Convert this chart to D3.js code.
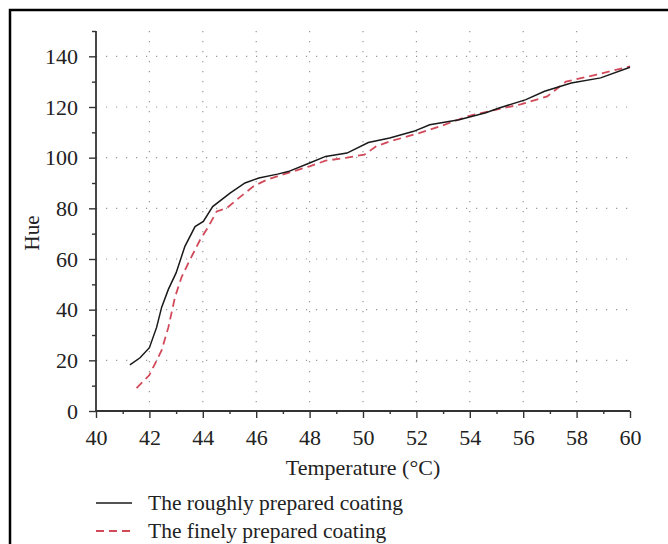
<!DOCTYPE html>
<html>
<head>
<meta charset="utf-8">
<script src="https://cdn.jsdelivr.net/npm/d3@7"></script>
<style>
  body { margin: 0; background: #fff; }
  svg { display: block; }
  text { font-family: "Liberation Serif", "DejaVu Serif", serif; fill: #222; }
</style>
</head>
<body>
<div id="chart"></div>
<script>
// data
var roughTemp = [41.27, 41.65, 42.0, 42.27, 42.46, 42.71, 43.0, 43.33, 43.71, 44.02, 44.37, 45.02, 45.58, 46.1, 46.8, 47.2, 48.0, 48.6, 49.4, 50.2, 51.0, 51.9, 52.5, 53.6, 54.6, 55.1, 56.1, 56.8, 57.8, 58.9, 60.0];
var roughHue = [18.2, 21, 25, 33, 41, 48, 54.5, 65, 72.8, 74.8, 80.7, 86, 90, 92, 93.5, 94.5, 97.9, 100.5, 101.8, 106, 107.8, 110.4, 113, 115, 117.7, 119.6, 122.9, 126.2, 129.5, 131.5, 135.7];

var fineTemp = [41.52, 42.0, 42.46, 42.71, 42.96, 43.21, 43.52, 43.9, 44.21, 44.52, 44.9, 45.27, 45.9, 46.4, 47.2, 48.0, 48.6, 49.4, 50.05, 50.5, 51.0, 52.1, 52.9, 53.9, 55.0, 55.9, 56.9, 57.6, 58.75, 60.0];
var fineHue = [9, 14.2, 24, 33, 45, 53, 59.7, 67.6, 72.8, 78.8, 80.1, 83.4, 88.7, 91.3, 94, 96.6, 98.8, 100, 101.2, 104.5, 106.4, 109.7, 112.4, 116.3, 119, 121, 124.2, 130, 132.8, 136];

var xTicks = [40, 42, 44, 46, 48, 50, 52, 54, 56, 58, 60];
var yTicks = [0, 20, 40, 60, 80, 100, 120, 140];
var seriesNames = ["The roughly prepared coating", "The finely prepared coating"];

var width = 668, height = 544;
var plotLeft = 96, plotRight = 630, plotTop = 31, plotBottom = 411;

var svg = d3.select('#chart').append('svg')
  .attr('width', width)
  .attr('height', height);

// outer frame (runs off the right and bottom edge)
svg.append('rect')
  .attr('x', 10).attr('y', 10)
  .attr('width', 700).attr('height', 600)
  .attr('fill', 'none')
  .attr('stroke', '#000')
  .attr('stroke-width', 2.5);

var x = d3.scaleLinear().domain([40, 60]).range([plotLeft, plotRight]);
var y = d3.scaleLinear().domain([0, 150]).range([plotBottom, plotTop]);

// dotted grid
var grid = svg.append('g')
  .attr('stroke', '#999')
  .attr('stroke-width', 1.2)
  .attr('stroke-dasharray', '1.2,8.8');
grid.selectAll('line.v').data(xTicks.slice(1, -1)).enter().append('line')
  .attr('x1', d => x(d)).attr('x2', d => x(d))
  .attr('y1', y(150)).attr('y2', y(0));
grid.selectAll('line.h').data(yTicks.slice(1)).enter().append('line')
  .attr('x1', x(40)).attr('x2', x(60))
  .attr('y1', d => y(d)).attr('y2', d => y(d));

// axes
var xAxis = svg.append('g')
  .attr('transform', 'translate(0,' + plotBottom + ')')
  .call(d3.axisBottom(x).tickValues(xTicks).tickFormat(d3.format('d')).tickSize(7).tickPadding(11));
var xMinor = svg.append('g')
  .attr('transform', 'translate(0,' + plotBottom + ')')
  .call(d3.axisBottom(x).tickValues(d3.range(41, 60, 2)).tickFormat('').tickSize(3));

var yAxis = svg.append('g')
  .attr('transform', 'translate(' + plotLeft + ',0)')
  .call(d3.axisLeft(y).tickValues(yTicks).tickFormat(d3.format('d')).tickSize(7).tickPadding(11));
var yMinor = svg.append('g')
  .attr('transform', 'translate(' + plotLeft + ',0)')
  .call(d3.axisLeft(y).tickValues(d3.range(10, 160, 20)).tickFormat('').tickSize(4));

[xAxis, xMinor, yAxis, yMinor].forEach(function(g) {
  g.select('.domain').attr('stroke', '#333').attr('stroke-width', 1.8);
  g.selectAll('.tick line').attr('stroke', '#333').attr('stroke-width', 1.4);
  g.selectAll('.tick text')
    .style('font-family', '"Liberation Serif", "DejaVu Serif", serif')
    .style('font-size', '22px')
    .attr('fill', '#222');
});
xMinor.select('.domain').remove();
yMinor.select('.domain').remove();
xAxis.select('.domain').attr('d', 'M' + plotLeft + ',0H' + plotRight);
yAxis.select('.domain').attr('d', 'M0,' + plotTop + 'V' + plotBottom);

// axis titles
svg.append('text')
  .attr('x', 363).attr('y', 475)
  .attr('text-anchor', 'middle')
  .style('font-size', '22px')
  .text('Temperature (°C)');
svg.append('text')
  .attr('transform', 'translate(39,233) rotate(-90)')
  .attr('text-anchor', 'middle')
  .style('font-size', '21px')
  .text('Hue');

// lines
var line = d3.line().x(d => x(d[0])).y(d => y(d[1]));
var roughPts = roughTemp.map((t, i) => [t, roughHue[i]]);
var finePts = fineTemp.map((t, i) => [t, fineHue[i]]);

svg.append('path')
  .datum(finePts)
  .attr('d', line)
  .attr('fill', 'none')
  .attr('stroke', '#d24a5a')
  .attr('stroke-width', 1.8)
  .attr('stroke-dasharray', '8,5');

svg.append('path')
  .datum(roughPts)
  .attr('d', line)
  .attr('fill', 'none')
  .attr('stroke', '#1a1a1a')
  .attr('stroke-width', 1.5);

// legend
var legend = svg.append('g');
var legendY = [503, 531];
legend.selectAll('line').data(seriesNames).enter().append('line')
  .attr('x1', 96).attr('x2', 132)
  .attr('y1', (d, i) => legendY[i]).attr('y2', (d, i) => legendY[i])
  .attr('stroke', (d, i) => i === 0 ? '#1a1a1a' : '#d24a5a')
  .attr('stroke-width', (d, i) => i === 0 ? 1.5 : 1.8)
  .attr('stroke-dasharray', (d, i) => i === 0 ? null : '8,5');
legend.selectAll('text').data(seriesNames).enter().append('text')
  .attr('x', 148)
  .attr('y', (d, i) => legendY[i] + 7)
  .style('font-size', '21.5px')
  .text(d => d);
</script>
</body>
</html>
